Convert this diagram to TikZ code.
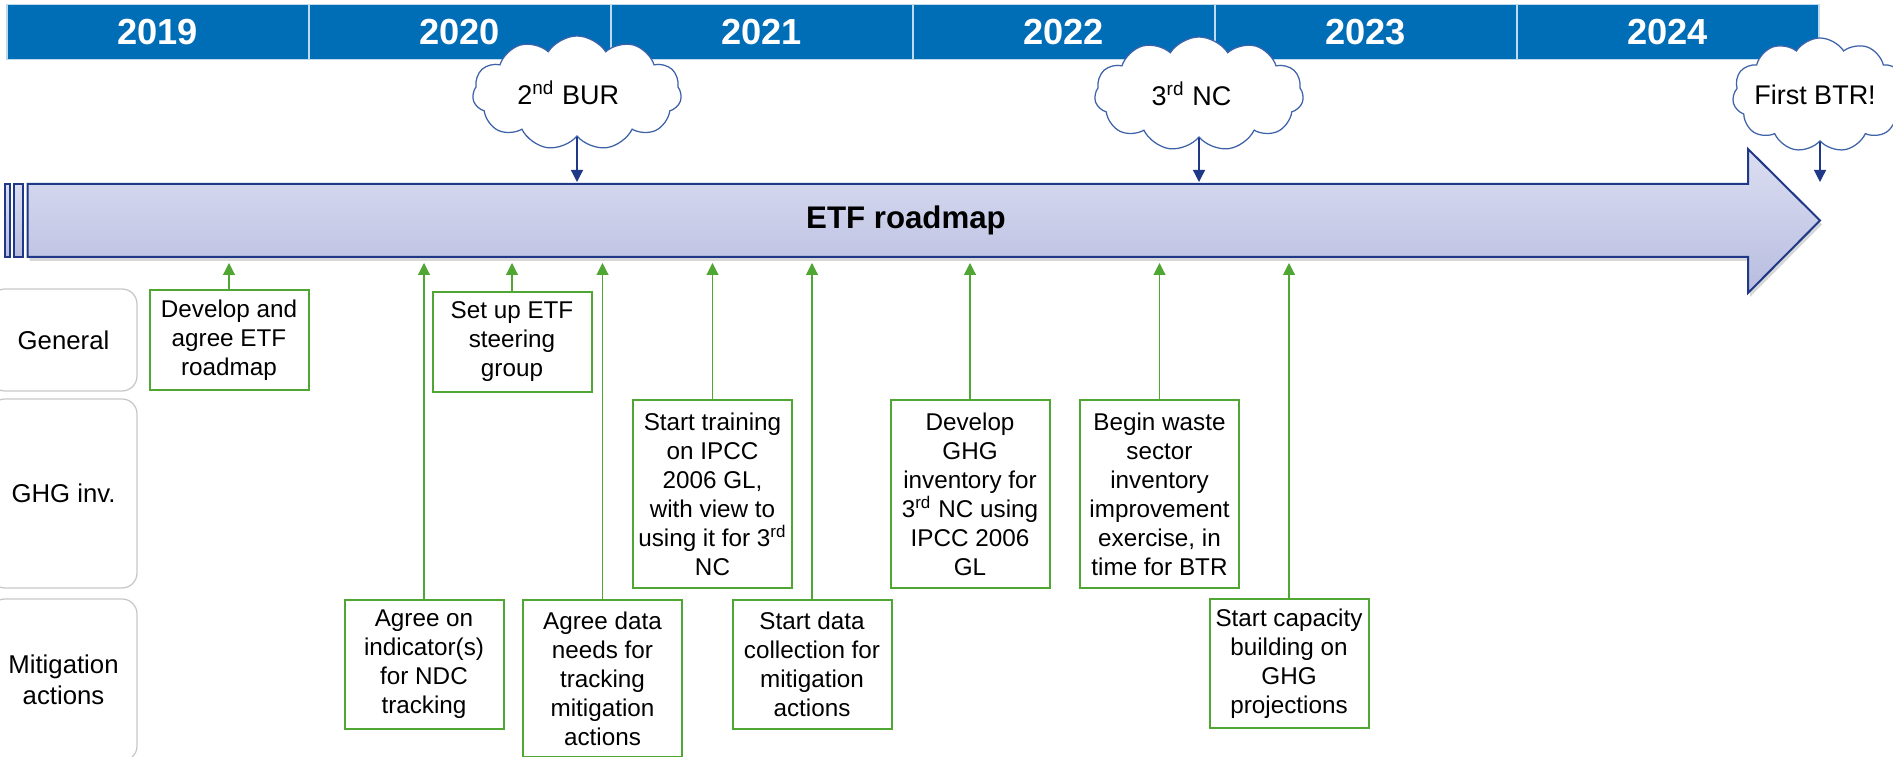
\documentclass[tikz,border=0pt]{standalone}
\usepackage{fontspec}
\setmainfont{Liberation Sans}
\usepackage{tikz}
\usetikzlibrary{arrows.meta, calc, shapes.symbols}

\definecolor{godplava}{RGB}{0,109,183}
\definecolor{cijevgore}{RGB}{219,222,241}
\definecolor{cijevdolje}{RGB}{184,189,224}
\definecolor{tamnoplava}{RGB}{31,56,135}
\definecolor{oblakplava}{RGB}{62,98,168}
\definecolor{etfzelena}{RGB}{80,166,50}

\begin{document}
\begin{tikzpicture}[x=0.4pt, y=-0.4pt,
    godina/.style={rectangle, fill=godplava, draw=white!75!godplava, line width=0.6pt,
        minimum width=120.8pt, minimum height=22pt, inner sep=0pt, text=white,
        font=\fontsize{14.5}{17}\selectfont\bfseries},
    oblak/.style={cloud, cloud puffs=11, cloud puff arc=115, aspect=1.85, draw=oblakplava,
        line width=0.5pt, fill=white, inner sep=0pt, minimum height=45.6pt,
        font=\fontsize{10.8}{13}\selectfont},
    redak/.style={draw=black!22, line width=0.5pt, rounded corners=6pt, align=center,
        minimum width=58.8pt, font=\fontsize{10.3}{12.4}\selectfont},
    zadatak/.style={draw=etfzelena, line width=0.8pt, align=center, inner sep=1pt,
        minimum width=63.6pt, anchor=north, font=\fontsize{9.7}{11.6}\selectfont},
    veza/.style={-{Triangle[width=4.8pt,length=4.8pt]}, etfzelena, line width=0.45pt},
    dolje/.style={-{Triangle[width=4.8pt,length=4.8pt]}, tamnoplava, line width=0.5pt}
]
        \clip (0,0) rectangle (1893,757);

        % Mjere strelice
        \def\cijevL{27.7}   % lijevi rub tijela
        \def\cijevG{184}    % gornji rub tijela
        \def\cijevD{257}    % donji rub tijela
        \def\glavaX{1748}   % pocetak glave
        \def\vrhX{1820}     % vrh strelice

        % Godine
        \foreach \g [count=\i from 0] in {2019,...,2024} {
            \node[godina, anchor=north west] (g\g) at ({6+302*\i}, 4) {\g};
        }

        % Sjena strelice
        \fill[black!45, opacity=0.35, shift={(2,4)}]
            (\cijevL,\cijevG) -- (\glavaX,\cijevG) -- (\glavaX,149) -- (\vrhX,220.5)
            -- (\glavaX,293) -- (\glavaX,\cijevD) -- (\cijevL,\cijevD) -- cycle;

        % Strelica (ETF roadmap)
        \draw[tamnoplava, line width=0.8pt, top color=cijevgore, bottom color=cijevdolje]
            (\cijevL,\cijevG) -- (\glavaX,\cijevG) -- (\glavaX,149) -- (\vrhX,220.5)
            -- (\glavaX,293) -- (\glavaX,\cijevD) -- (\cijevL,\cijevD) -- cycle;
        \draw[tamnoplava, line width=0.8pt, top color=cijevgore, bottom color=cijevdolje]
            (5.4,\cijevG) rectangle (10,\cijevD);
        \draw[tamnoplava, line width=0.8pt, top color=cijevgore, bottom color=cijevdolje]
            (14,\cijevG) rectangle (23,\cijevD);
        \node[font=\fontsize{12.5}{15}\selectfont\bfseries] (naslov) at (906,220.5) {ETF roadmap};

        \coordinate (cijevN) at (0,182);
        \coordinate (cijevS) at (0,263);

        % Oblaci
        \node[oblak, minimum width=83.6pt] (bur) at (577,93) {\makebox[0pt]{\kern-7pt 2\textsuperscript{nd} BUR}};
        \node[oblak, minimum width=83.6pt] (nc) at (1199,94) {\makebox[0pt]{\kern-6pt 3\textsuperscript{rd} NC}};
        \node[oblak, minimum width=70pt] (btr) at (\vrhX,95) {\makebox[0pt]{\kern-4pt First BTR!}};
        \foreach \o in {bur, nc, btr} {
            \draw[dolje] (\o.south) -- (\o.south |- cijevN);
        }

        % Retci
        \node[redak, minimum height=40.8pt] (opce) at (63.5,340) {General};
        \node[redak, minimum height=75.6pt] (ghg) at (63.5,493.5) {GHG inv.};
        \node[redak, minimum height=64.8pt] (ublaz) at (63.5,680) {Mitigation\\actions};

        % Zadaci
        \node[zadatak, minimum height=40pt] (razvoj) at (229,289) {Develop and\\agree ETF\\roadmap};
        \node[zadatak, minimum height=40pt] (uprava) at (512,291) {Set up ETF\\steering\\group};
        \node[zadatak, minimum height=51.6pt] (ndc) at (424,599) {Agree on\\indicator(s)\\for NDC\\tracking};
        \node[zadatak, minimum height=62.8pt] (potrebe) at (602.5,599) {Agree data\\needs for\\tracking\\mitigation\\actions};
        \node[zadatak, minimum height=75.2pt] (obuka) at (712.5,399) {Start training\\on IPCC\\2006 GL,\\with view to\\using it for 3\textsuperscript{rd}\\NC};
        \node[zadatak, minimum height=51.6pt] (podaci) at (812,599) {Start data\\collection for\\mitigation\\actions};
        \node[zadatak, minimum height=75.2pt] (inventar) at (970,399) {Develop\\GHG\\inventory for\\3\textsuperscript{rd} NC using\\IPCC 2006\\GL};
        \node[zadatak, minimum height=75.2pt] (otpad) at (1159.5,399) {Begin waste\\sector\\inventory\\improvement\\exercise, in\\time for BTR};
        \node[zadatak, minimum height=51.6pt] (kapacitet) at (1289,598) {Start capacity\\building on\\GHG\\projections};

        % Veze prema strelici
        \foreach \z in {razvoj, uprava, ndc, potrebe, obuka, podaci, inventar, otpad, kapacitet} {
            \draw[veza] (\z.north) -- (\z.north |- cijevS);
        }
\end{tikzpicture}
\end{document}
